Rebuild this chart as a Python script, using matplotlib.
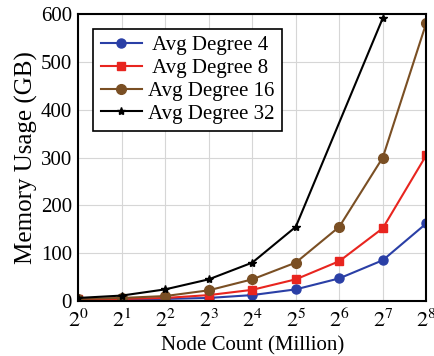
import math
import matplotlib
matplotlib.use('Agg')
import matplotlib.pyplot as plt
from matplotlib.ticker import FixedLocator, FuncFormatter

plt.rcParams['font.family'] = 'Liberation Serif'
plt.rcParams['mathtext.fontset'] = 'stix'

# データ (x は 2 の指数)
exps = [0, 1, 2, 3, 4, 5, 6, 7, 8]
deg4 = [2, 3, 4, 6, 12, 24, 47, 85, 162]
deg8 = [3, 4, 6, 12, 23, 45, 83, 152, 305]
deg16 = [4, 6, 10, 22, 45, 80, 155, 300, 582]
# 32 は 2^6 の点なし
exps32 = [0, 1, 2, 3, 4, 5, 7]
deg32 = [6, 11, 24, 45, 80, 155, 592]
labels = [' Avg Degree 4', ' Avg Degree 8', 'Avg Degree 16', 'Avg Degree 32']

fig, ax = plt.subplots(figsize=(4.35, 3.56), dpi=100)
fig.subplots_adjust(left=0.18, right=0.98, bottom=0.155, top=0.96)

x = [2 ** e for e in exps]
x32 = [2 ** e for e in exps32]
ax.plot(x, deg4, color='#2a3fa6', marker='o', markersize=6.5, lw=1.5, label=labels[0])
ax.plot(x, deg8, color='#e8251f', marker='s', markersize=6, lw=1.5, label=labels[1])
ax.plot(x, deg16, color='#7a4f24', marker='o', markersize=7, lw=1.5, label=labels[2])
ax.plot(x32, deg32, color='black', marker='*', markersize=6, lw=1.5, label=labels[3])

ax.set_xscale('log', base=2)
ax.set_xlim(1, 256)
ax.set_ylim(0, 600)
ax.xaxis.set_major_locator(FixedLocator(x))
ax.xaxis.set_minor_locator(FixedLocator([]))
ax.xaxis.set_major_formatter(FuncFormatter(lambda v, p: r'$2^{%d}$' % round(math.log2(v))))
ax.set_yticks([0, 100, 200, 300, 400, 500, 600])

ax.grid(True, color='#d6d6d6', lw=0.8)
ax.set_axisbelow(True)
for s in ax.spines.values():
    s.set_linewidth(1.5)
ax.tick_params(labelsize=15, length=0, pad=4.5)
ax.tick_params(axis='x', labelsize=16, pad=6)

ax.set_xlabel('Node Count (Million)', fontsize=15, labelpad=3)
ax.set_ylabel('Memory Usage (GB)', fontsize=18, labelpad=2)

leg = ax.legend(loc='upper left', fontsize=15, fancybox=False, framealpha=1,
                edgecolor='black', borderpad=0.35, labelspacing=0.15,
                handlelength=2.0, handletextpad=0.3, borderaxespad=0,
                bbox_to_anchor=(0.043, 0.95))
leg.get_frame().set_linewidth(1.2)

fig.savefig('out.png', dpi=100)
